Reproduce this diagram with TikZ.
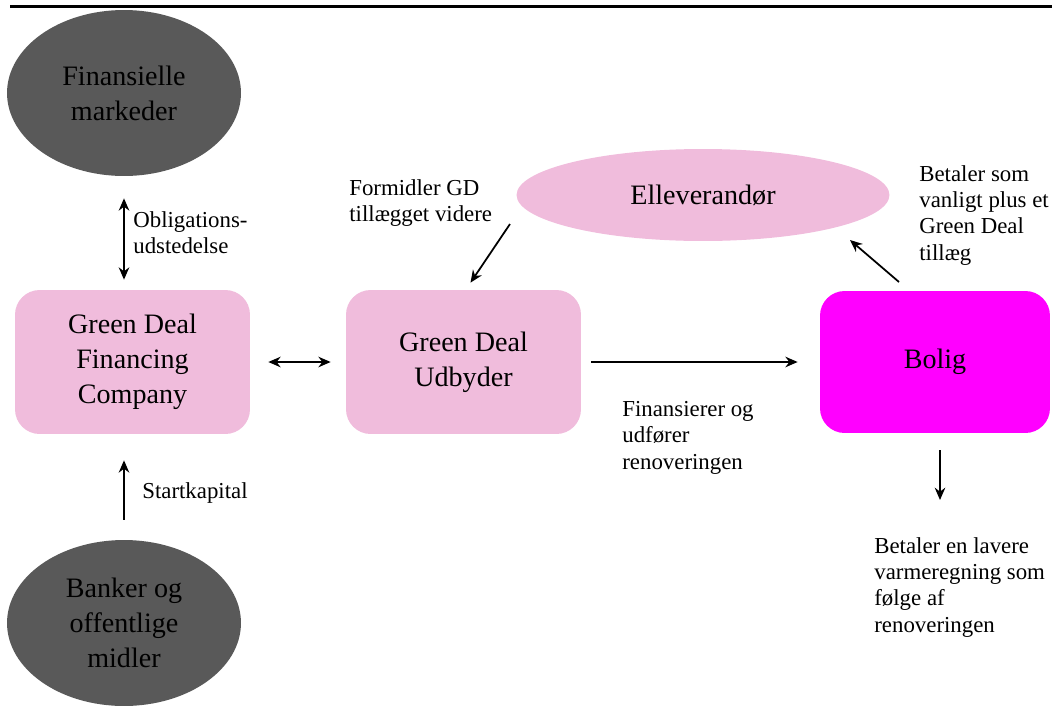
\documentclass[tikz,border=0pt]{standalone}
\usepackage{fontspec}
\setmainfont{Liberation Serif}
\usepackage{xcolor}
\definecolor{gdpink}{RGB}{240,188,220}
\definecolor{gdgray}{RGB}{89,89,89}
\definecolor{gdmagenta}{RGB}{255,0,255}
\usetikzlibrary{positioning,arrows.meta,shapes.geometric}
\newcommand{\boxfont}{\fontsize{16}{19.8}\selectfont}
\newcommand{\lblfont}{\fontsize{13}{15}\selectfont}

\begin{document}
\begin{tikzpicture}[
    x=0.02cm, y=-0.02cm,
    box/.style={rounded corners=14pt, align=center, inner sep=0pt,
                font=\boxfont, minimum width=4.7cm, minimum height=2.88cm},
    actor/.style={box, fill=gdpink},
    home/.style={box, fill=gdmagenta, minimum width=4.6cm,
                 minimum height=2.84cm},
    source/.style={ellipse, fill=gdgray, inner sep=0pt, align=center,
                   font=\boxfont, minimum width=4.68cm, minimum height=3.32cm},
    supplier/.style={ellipse, fill=gdpink, inner sep=0pt, font=\boxfont,
                     minimum width=7.46cm, minimum height=1.84cm},
    arr/.style={-{Stealth[length=7pt,width=6pt]}, line width=1pt},
    darr/.style={arr, {Stealth[length=7pt,width=6pt]}-{Stealth[length=7pt,width=6pt]}},
    lbl/.style={font=\lblfont, align=left, anchor=north west, inner sep=0pt},
]
\useasboundingbox (0,0) rectangle (1052,707);

% title rule
\draw[line width=0.06cm] (10,6) -- (1052,6);

% --- NODES ---
\node[source] (fm) at (124,93) {Finansielle\\markeder};
\node[source] (bank) at (124,623) {Banker og\\offentlige\\midler};

\node[actor] (gdfc) at (132.5,362) {Green Deal\\Financing\\Company};
\node[actor] (gdu) at (463.5,362) {Green Deal\\Udbyder};
\node[home] (bolig) at (935,362) {Bolig};

\node[supplier] (el) at (703,195) {Elleverandør};

% --- LABELS ---
\node[lbl] (lobl) at (133,211) {Obligations-\\udstedelse};
\node[lbl] (lstart) at (142,482) {Startkapital};
\node[lbl] (lform) at (349,179) {Formidler GD\\tillægget videre};
\node[lbl] (lbet) at (919,165) {Betaler som\\vanligt plus et\\Green Deal\\tillæg};
\node[lbl] (lfin) at (622,401) {Finansierer og\\udfører\\renoveringen};
\node[lbl] (llav) at (874,537) {Betaler en lavere\\varmeregning som\\følge af\\renoveringen};

% --- ARROWS ---
\coordinate (fstart) at (510,224);
\coordinate (bend) at (850,240);
\coordinate (bstart) at (899,282);
\coordinate (ldown) at (940,500);

\draw[darr, shorten <=0.44cm, shorten >=0.2cm] (fm.south) -- (fm.south |- gdfc.north);
\draw[arr, shorten <=0.4cm, shorten >=0.52cm] (bank.north) -- (bank.north |- gdfc.south);

\draw[darr, shorten <=0.36cm, shorten >=0.3cm] (gdfc.east) -- (gdu.west);
\draw[arr, shorten <=0.2cm, shorten >=0.44cm] (gdu.east) -- (bolig.west);

\draw[arr] (fstart) -- ([shift={(7,-7)}]gdu.north);
\draw[arr] (bstart) -- (bend);
\draw[arr, shorten <=0.34cm] (bolig.south -| ldown) -- (ldown);

\end{tikzpicture}
\end{document}
